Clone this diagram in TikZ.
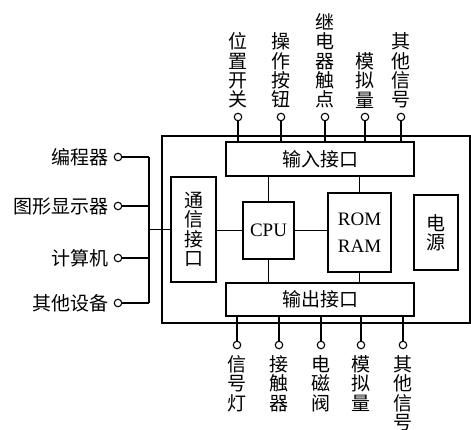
\documentclass[tikz,border=0pt]{standalone}
\usepackage{fontspec}
\setmainfont{Liberation Serif}
\newfontfamily\cjk{Noto Sans CJK SC}
\begin{document}
\begin{tikzpicture}[x=1pt,y=-1pt, line width=1.2pt,
  box/.style={draw, rectangle, inner sep=0},
  lbl/.style={font=\cjk\fontsize{19}{19.4}\selectfont, inner sep=0, align=center},
  lat/.style={font=\fontsize{19}{27}\selectfont, align=center},
  pin/.style={draw, circle, minimum size=7.5pt, inner sep=0, line width=1.1pt, fill=white}]
\useasboundingbox (0,0) rectangle (471,429);
% outer frame
\node[box, minimum width=308pt, minimum height=187pt] (outer) at (316,229.5) {};
% inner blocks
\node[box, minimum width=188pt, minimum height=34pt, lbl] (inp) at (320,159) {输入接口};
\node[box, minimum width=188pt, minimum height=33pt, lbl] (outp) at (320,299.5) {输出接口};
\node[box, minimum width=45pt, minimum height=105pt, lbl] (comm) at (193.5,229.5) {通\\信\\接\\口};
\node[box, minimum width=51pt, minimum height=57pt, lat] (cpu) at (268.5,230.5) {CPU};
\node[box, minimum width=63pt, minimum height=79pt, lat] (rom) at (359.5,232.5) {ROM\\RAM};
\node[box, minimum width=44pt, minimum height=75pt, lbl] (pwr) at (436,232.5) {电\\源};
% internal connections
\draw (cpu.west) -- (cpu.west -| comm.east);
\draw (cpu.east) -- (cpu.east -| rom.west);
\draw (cpu.north) -- (cpu.north |- inp.south);
\draw (cpu.south) -- (cpu.south |- outp.north);
\draw (rom.north) -- (rom.north |- inp.south);
\draw (rom.south) -- (rom.south |- outp.north);
% left bus
\coordinate (bt) at (149,157);
\coordinate (bb) at (149,303);
\draw (bt) -- (bb);
\draw (comm.west) -- (comm.west -| bt);
\foreach \i/\y/\t in {1/157/编程器, 2/206/图形显示器, 3/258/计算机, 4/303/其他设备}{
  \node[pin] (lp\i) at (118,\y) {};
  \node[lbl, anchor=east] (ll\i) at (109,\y) {\t};
  \draw (lp\i) -- (lp\i -| bt);
}
% top inputs
\foreach \i/\x/\t in {1/238/位\\置\\开\\关, 2/281/操\\作\\按\\钮, 3/325/继\\电\\器\\触\\点, 4/365/模\\拟\\量, 5/401/其\\他\\信\\号}{
  \node[pin] (tp\i) at (\x,117) {};
  \node[lbl, anchor=south] (tl\i) at (\x,109) {\t};
  \draw (tp\i) -- (tp\i |- inp.north);
}
% bottom outputs
\foreach \i/\x/\t in {1/237/信\\号\\灯, 2/279/接\\触\\器, 3/321/电\\磁\\阀, 4/361/模\\拟\\量, 5/403/其\\他\\信\\号}{
  \node[pin] (bp\i) at (\x,345) {};
  \node[lbl, anchor=north] (bl\i) at (\x,355) {\t};
  \draw (bp\i) -- (bp\i |- outp.south);
}
\end{tikzpicture}
\end{document}
